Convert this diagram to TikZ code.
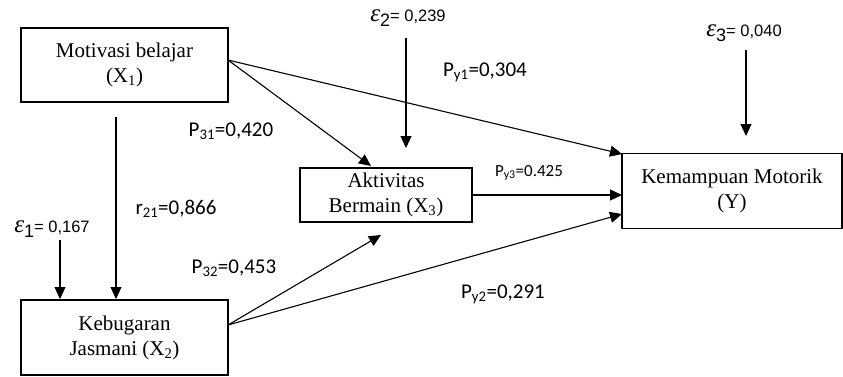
\documentclass[tikz,border=0pt]{standalone}
\usepackage{fontspec}
\setmainfont{Liberation Serif}
\newfontfamily\lblfont{Carlito}
\newfontfamily\numfont{Liberation Sans}
\usetikzlibrary{arrows.meta}
\newcommand{\epslbl}[2]{{\fontsize{25}{26}\selectfont\rmfamily\itshape ε}\raisebox{-5pt}{\numfont\fontsize{18}{18}\selectfont #1}{\numfont\fontsize{16.5}{18}\selectfont= #2}}
\begin{document}
\begin{tikzpicture}[x=1pt,y=-1pt,
  box/.style={draw,line width=1.1pt,inner sep=0pt,align=center,font=\fontsize{21}{25}\selectfont},
  lbl/.style={font=\lblfont\fontsize{21}{24}\selectfont,inner sep=0pt},
  arr/.style={line width=1.1pt,-{Triangle[length=12pt,width=11pt]}}]
\useasboundingbox (0,0) rectangle (843,376);
\node[box,minimum width=207pt,minimum height=74pt] (x1) at (124.5,65) {Motivasi belajar\\(X\textsubscript{1})};
\node[box,minimum width=207pt,minimum height=75pt] (x2) at (124.5,337.5) {Kebugaran\\Jasmani (X\textsubscript{2})};
\node[box,minimum width=172pt,minimum height=54pt] (x3) at (386,195) {Aktivitas\\Bermain (X\textsubscript{3})};
\node[box,minimum width=220pt,minimum height=75pt] (y) at (732,191) {Kemampuan Motorik\\(Y)};
% coordinates
\coordinate (x1o) at (228,60);
\coordinate (x2o) at (228,325);
\coordinate (x1b) at (116,117);
\coordinate (x2t) at (116,299);
\coordinate (e1s) at (60,240);
\coordinate (e1e) at (60,299);
\coordinate (e2s) at (406,38);
\coordinate (e2e) at (406,148);
\coordinate (e3s) at (746,50);
\coordinate (e3e) at (746,136);
\coordinate (x3a) at (371,166);
\coordinate (x3b) at (381,235);
\coordinate (ya) at (622,154);
\coordinate (yb) at (622,195);
\coordinate (yc) at (622,214);
% connectors
\draw[arr] (x1o) -- (ya);
\draw[arr] (x1o) -- (x3a);
\draw[arr] (x1b) -- (x2t);
\draw[arr] (e1s) -- (e1e);
\draw[arr] (e2s) -- (e2e);
\draw[arr] (e3s) -- (e3e);
\draw[arr] (x3.east) -- (yb);
\draw[arr] (x2o) -- (x3b);
\draw[arr] (x2o) -- (yc);
% labels
\node[lbl] (l1) at (231,131) {P\textsubscript{31}=0,420};
\node[lbl] (l2) at (485,72) {P\textsubscript{y1}=0,304};
\node[lbl] (l3) at (176,209) {r\textsubscript{21}=0,866};
\node[lbl] (l4) at (52,229) {\epslbl{1}{0,167}};
\node[lbl] (l5) at (408,18) {\epslbl{2}{0,239}};
\node[lbl] (l6) at (744,33) {\epslbl{3}{0,040}};
\node[lbl] (l7) at (234,268) {P\textsubscript{32}=0,453};
\node[lbl] (l8) at (529,173) {\fontsize{17}{18}\selectfont P\textsubscript{y3}=0.425};
\node[lbl] (l9) at (503,294) {P\textsubscript{y2}=0,291};
\end{tikzpicture}
\end{document}
